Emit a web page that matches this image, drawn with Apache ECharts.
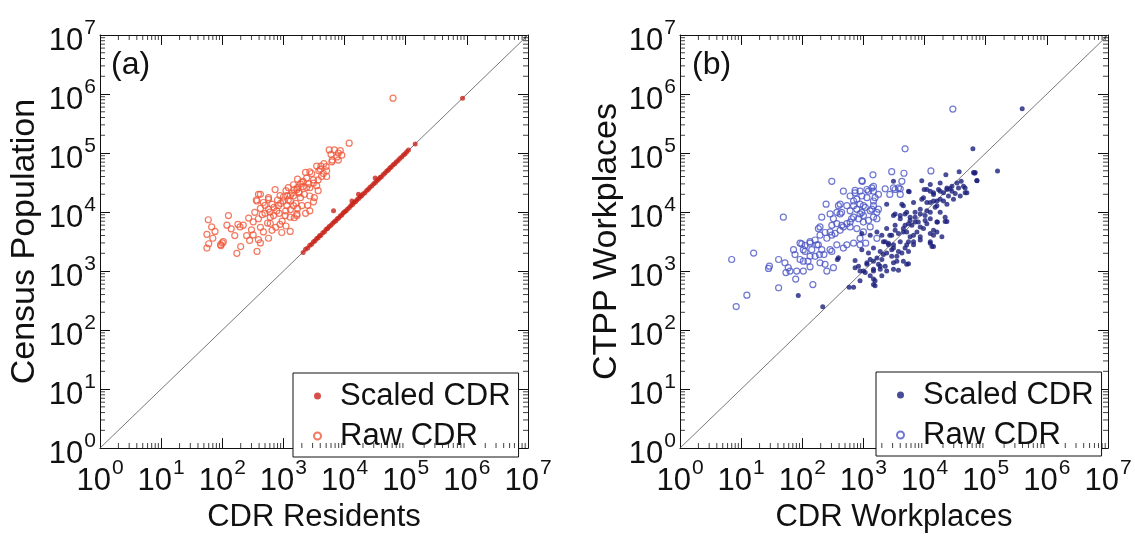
<!DOCTYPE html>
<html>
<head>
<meta charset="utf-8">
<script src="https://cdn.jsdelivr.net/npm/echarts@6/dist/echarts.min.js"></script>
<style>
html,body{margin:0;padding:0;background:#fff;}
#c{width:1135px;height:538px;}
</style>
</head>
<body>
<div id="c"></div>
<script>
// ---------- data ----------
const decades = [1, 10, 100, 1000, 1e4, 1e5, 1e6, 1e7];
const minorMultipliers = [2, 3, 4, 5, 6, 7, 8, 9];
const identityLine = [[1, 1], [1e7, 1e7]];

const scaledA = [
[2100,2070],[2300,2350],[2500,2450],[2700,2750],[2900,2850],[3100,3150],[3300,3250],[3500,3550],
[3700,3650],[3900,3950],[4100,4050],[4400,4450],[4700,4650],[5000,5100],[5300,5250],[5600,5700],
[6000,5950],[6400,6450],[6600,10500],[6800,6850],[7200,7150],[7600,7700],[8000,7950],[8500,8600],
[9000,8950],[9500,9600],[10000,10100],[10600,10500],[11200,11300],[12000,11900],[12700,12900],
[13200,15400],[13500,13400],[14300,14500],[15200,15100],[16000,16200],[16900,20000],[17000,16900],
[18000,18200],[19000,18900],[20000,20300],[21500,21300],[23000,23200],[24500,24400],[26000,26300],
[28000,27800],[30000,30300],[31700,37600],[32000,31800],[34000,34300],[36000,35800],[38000,38400],
[40000,39700],[43000,43300],[46000,45700],[49000,49400],[52000,51600],[55000,55500],[58000,57700],
[62000,62500],[66000,65500],[70000,70600],[75000,74500],[80000,80700],[86000,85300],[92000,92800],
[98000,97300],[104000,105000],[111000,113000],[143000,142000],[850000,845000]
];

const rawA = [
[11900,147000],[5600,113000],[6800,113000],[7900,100000],[9000,92000],[7500,86000],[6300,76000],
[7900,76000],[3500,60000],[4000,53000],[5000,59000],[5100,50000],[2300,47000],[2700,48000],
[2900,45000],[4200,40000],[3700,35000],[1700,36000],[2100,33000],[1900,30000],[3100,31000],
[1200,26000],[1500,24000],[1700,26000],[2400,26000],[1800,21000],[3700,23000],[730,24000],
[390,20000],[880,19000],[1300,19000],[570,17500],[1000,15400],[1300,15400],[1900,17500],
[3200,17500],[370,15400],[470,14500],[650,13600],[830,12800],[1140,12800],[1460,12800],
[2000,12800],[420,11500],[570,11200],[780,10500],[1090,10500],[2700,10500],[340,9900],[500,9500],
[690,8700],[1070,8700],[1660,9300],[390,7700],[610,8200],[1290,8200],[126,8700],[59,7400],
[320,6800],[610,6400],[880,6200],[1660,8700],[119,6000],[195,5600],[220,6000],[67,5600],[76,4700],
[56,4200],[70,3600],[320,4100],[470,4600],[650,4900],[940,4500],[1290,4700],[570,3600],[390,3400],
[420,3000],[104,3150],[94,2800],[56,2450],[173,2000],[370,2150],[62000,850000],
[270,7900],[100,3000],[95,2700],[360,16000],[6200,71000],[4100,60000],[5100,40000],[2400,37600],
[3100,35000],[1460,29000],[1660,24000],[2100,27000],[2700,25800],[1140,19000],[1460,18700],
[2700,18700],[570,16400],[420,20000],[3100,14900],
[1200,16000],[1600,14000],[1800,22000],[2200,20000],[2500,13000],[1400,21000],[1000,18000],
[900,14000],[800,16000],[1100,23000],[2000,32000],[2600,30000],[3500,28000],[4500,45000],
[3800,50000],[1300,11000],[1700,11500],[2300,9500],[700,12000],[600,10000],[500,13000],[450,9000],
[850,9500],[1500,8000],[950,7000],[750,5500],[550,6500],[420,5500],[300,5000],[250,4000],
[160,4000],[180,6200],[140,5200],[60,2900],[200,2600],[280,3300],[1100,5800],[8500,110000],
[6000,95000],[4600,66000]
];

const scaledB = [
[61700,118000],[156000,49800],[67300,46700],[71800,34000],[22300,42800],[36800,48400],[3100,33100],
[9000,34000],[18000,31000],[39700,33100],[5460,22600],[9840,24100],[12400,22600],[14000,19900],
[16900,24100],[20400,21200],[23200,25600],[28000,22600],[35900,25600],[46100,25600],[49200,21200],
[26200,24700],[31700,20700],[2400,13600],[4500,12800],[9600,17500],[10900,14500],[14000,15400],
[15900,12800],[18000,16500],[23200,13600],[29700,16500],[38300,18700],[3100,8700],[4000,7700],
[4800,9300],[5800,8200],[7000,9900],[8500,11200],[10200,8700],[12400,9900],[14900,12000],
[18000,9900],[21700,8200],[3300,5960],[4500,5250],[5460,6350],[7000,6760],[8500,5600],[10900,6350],
[14000,4920],[16200,6760],[23200,6930],[940,4340],[1290,4060],[1660,4610],[2000,4060],[2400,5250],
[2900,4060],[3740,4340],[5100,4610],[6600,4060],[8500,3810],[14000,4060],[19200,3810],[2120,3150],
[2570,2970],[3100,2780],[4000,3150],[5100,2780],[6600,3150],[12400,2970],[13200,2600],[940,2300],
[1210,2020],[1460,2450],[1880,2150],[2400,2020],[2900,2300],[3520,1780],[4250,2020],[5460,2150],
[4500,1470],[375,1570],[730,1510],[830,1210],[1140,1380],[1460,1470],[1760,1300],[2000,1570],
[2270,1210],[3100,1380],[5460,1330],[3740,1030],[730,1140],[880,1000],[1070,944],[1460,1000],
[1880,1070],[2000,830],[1460,731],[1550,566],[583,533],[86,387],[216,249],[395000,562000],
[65600,45400],[390,1680],
[12400,29200],[10900,24100],[14000,21200],[18000,22600],[23200,24100],[28000,27300],[33800,31000],
[43300,27300],[46100,21200],[63100,46700],[71800,34400],[5600,22000],[4250,13600],[6600,14500],
[9000,16500],[12400,14500],[15900,15400],[20400,15400],[24600,18700],[10900,10500],[8500,9300],
[7000,8200],[5800,7200],[5100,9900],[4000,8700],[3300,9300],[4800,5960],[6200,5960],[7900,6760],
[10200,7200],[12400,7690],[15900,6760],[21700,6930],[15900,4610],[12400,4340],[9600,5250],
[7500,4610],[5800,3810],[4500,4610],[5460,3150],[6600,2780],[8500,3360],[3300,4920],[2700,4060],
[2270,3150],[2570,2780],[3100,2450],[3740,2150],[4800,2450],[12400,3150],[14000,2600],
[1660,1670],[2120,1900],[2900,1780],[3520,1470],[5100,1300],[1140,1300],[1290,1570],[1880,1210],
[2400,1000],[3100,1070],[1000,1000],[1460,1070],[1550,686],[1290,830],[1460,589],[880,686],[690,533]
];

const rawB = [
[4800,118000],[304,33100],[940,34000],[1430,42800],[2900,48400],[4600,45400],[12700,49800],
[2270,24700],[3300,24100],[4000,24700],[2700,19900],[4000,19900],[470,22600],[730,23200],[880,22600],
[1140,24100],[1370,25600],[1460,22600],[1760,19900],[1550,17500],[245,13600],[390,12800],[440,9900],
[690,12800],[780,11200],[880,9300],[1070,12000],[1290,10500],[1460,12800],[1660,9900],[49,8200],
[208,8200],[285,9300],[323,7700],[367,6350],[690,8200],[830,7700],[1000,8700],[1210,7200],
[1460,8200],[535,6350],[606,5600],[416,4900],[470,5600],[183,5250],[236,4500],[304,4060],[344,4340],
[195,4060],[252,3600],[162,3360],[134,3150],[92,2970],[104,2300],[143,2300],[173,2780],[208,2300],
[285,2300],[304,2150],[470,2450],[690,2970],[880,2780],[1090,2970],[72,2300],[76,1900],[92,1570],
[104,1470],[134,1780],[191,1900],[41,1570],[52,1380],[59,1140],[63,1000],[54,944],[81,1000],
[195,1380],[236,1300],[252,1000],[104,1000],[134,1180],[29,1210],[28,1110],[78,730],[41,520],
[149,590],[16,2020],[7,1570],[12.4,390],[8.3,250],[29000,556000],[98,2880],[111,2710],[124,1470],
[940,9900],[606,10500],[416,9300],[640,7700],[1000,6760],[1660,7700],[1460,15400],[1140,17500],
[780,16500],[606,18700],[1760,11200],[880,13600],
[730,21200],[940,18700],[1210,22600],[1460,27300],[960,33100],[4250,33100],[3100,25600],
[3740,25600],[416,13600],[367,9900],[535,12800],[690,15400],[1000,12800],[1370,11200],[304,5960],
[443,5960],[606,6760],[780,5250],[1000,4610],[1290,5600],[880,3590],[535,2780],[1660,3590],
[195,5600],[285,4610],[134,2970],[111,2150],[183,2780],[226,1900],[162,1780],[367,2780],[323,1140]
];

// ---------- helpers ----------
const FONT = 'Liberation Sans, Arial, Helvetica, sans-serif';
const AX_MIN = decades[0], AX_MAX = decades[decades.length - 1];
const minorValues = [];
for (let d = 0; d < decades.length - 1; d++) {
  for (const m of minorMultipliers) minorValues.push(decades[d] * m);
}

function tickLabel(v) {
  const e = Math.round(Math.log10(v));
  return '{b|10}{e|' + e + '}';
}
const labelRich = {
  b: {fontSize: 31, fontFamily: FONT, color: '#111', padding: [12, 0, 0, 0]},
  e: {fontSize: 21, fontFamily: FONT, color: '#111', padding: [0, 0, 14, 1]}
};

function mainAxis(gridIndex, isX, name, nameGap, nameSize) {
  return {
    type: 'log', logBase: 10, gridIndex: gridIndex, min: AX_MIN, max: AX_MAX, interval: 1,
    position: isX ? 'bottom' : 'left',
    name: name, nameLocation: 'middle', nameGap: nameGap,
    nameTextStyle: {fontSize: nameSize, fontFamily: FONT, color: '#111'},
    axisLine: {show: true, lineStyle: {color: '#111', width: 1}},
    axisTick: {show: true, inside: true, length: 10, lineStyle: {color: '#111'}},
    axisLabel: {show: true, formatter: tickLabel, rich: labelRich, margin: isX ? 6 : 4},
    splitLine: {show: false}
  };
}
function mirrorAxis(gridIndex, isX) {
  return {
    type: 'log', logBase: 10, gridIndex: gridIndex, min: AX_MIN, max: AX_MAX, interval: 1,
    position: isX ? 'top' : 'right',
    axisLine: {show: true, lineStyle: {color: '#111', width: 1}},
    axisTick: {show: true, inside: true, length: 10, lineStyle: {color: '#111'}},
    axisLabel: {show: false},
    splitLine: {show: false}
  };
}

// minor log ticks on all four sides, placed through the axes' own scales
function minorTickSeries(xi, yi) {
  const L = 5;
  const common = {type: 'scatter', xAxisIndex: xi, yAxisIndex: yi, silent: true, clip: false,
    symbol: 'rect', itemStyle: {color: '#111'}, z: 6, animation: false};
  return [
    Object.assign({}, common, {data: minorValues.map(v => [v, AX_MIN]), symbolSize: [1, L], symbolOffset: [0, -L / 2]}),
    Object.assign({}, common, {data: minorValues.map(v => [v, AX_MAX]), symbolSize: [1, L], symbolOffset: [0, L / 2]}),
    Object.assign({}, common, {data: minorValues.map(v => [AX_MIN, v]), symbolSize: [L, 1], symbolOffset: [L / 2, 0]}),
    Object.assign({}, common, {data: minorValues.map(v => [AX_MAX, v]), symbolSize: [L, 1], symbolOffset: [-L / 2, 0]})
  ];
}

function legendBox(names, left, top) {
  return {
    data: names, orient: 'vertical', left: left, top: top,
    borderColor: '#111', borderWidth: 1, borderRadius: 0,
    padding: [6, 8, 4, 20], itemGap: 6, itemWidth: 7, itemHeight: 7,
    backgroundColor: '#fff',
    formatter: function (n) { return n.replace(/ \([ab]\)$/, ''); },
    textStyle: {fontSize: 31, fontFamily: FONT, color: '#111', padding: [0, 0, 0, 14], lineHeight: 34},
    selectedMode: false
  };
}

const chart = echarts.init(document.getElementById('c'), null, {renderer: 'canvas'});

const RED_DARK = '#c8261c', RED_LIGHT = '#f0583a';
const BLUE_DARK = '#1b1f7c', BLUE_LIGHT = '#4b55c4';

chart.setOption({
  animation: false,
  backgroundColor: '#fff',
  title: [
    {text: '(a)', left: 106, top: 44, textStyle: {fontSize: 32, fontWeight: 'normal', fontFamily: FONT, color: '#111'}},
    {text: '(b)', left: 687, top: 44, textStyle: {fontSize: 32, fontWeight: 'normal', fontFamily: FONT, color: '#111'}}
  ],
  grid: [
    {left: 100, top: 35, width: 428, height: 423},
    {left: 680, top: 35, width: 428, height: 423}
  ],
  xAxis: [
    mainAxis(0, true, 'CDR Residents', 38, 31),
    mirrorAxis(0, true),
    mainAxis(1, true, 'CDR Workplaces', 38, 31),
    mirrorAxis(1, true)
  ],
  yAxis: [
    mainAxis(0, false, 'Census Population', 58, 34),
    mirrorAxis(0, false),
    mainAxis(1, false, 'CTPP Workplaces', 56, 34),
    mirrorAxis(1, false)
  ],
  legend: [
    legendBox(['Scaled CDR (a)', 'Raw CDR (a)'], 293, 373),
    legendBox(['Scaled CDR (b)', 'Raw CDR (b)'], 876, 372)
  ],
  series: [
    {type: 'line', xAxisIndex: 0, yAxisIndex: 0, data: identityLine, symbol: 'none', silent: true,
     lineStyle: {color: '#555', width: 0.8}, z: 1},
    {type: 'line', xAxisIndex: 2, yAxisIndex: 2, data: identityLine, symbol: 'none', silent: true,
     lineStyle: {color: '#555', width: 0.8}, z: 1},
    ...minorTickSeries(0, 0),
    ...minorTickSeries(2, 2),
    {name: 'Raw CDR (a)', type: 'scatter', xAxisIndex: 0, yAxisIndex: 0, data: rawA,
     symbol: 'circle', symbolSize: 6,
     itemStyle: {color: 'rgba(255,255,255,0)', borderColor: RED_LIGHT, borderWidth: 1.2}, z: 3},
    {name: 'Scaled CDR (a)', type: 'scatter', xAxisIndex: 0, yAxisIndex: 0, data: scaledA,
     symbol: 'circle', symbolSize: 5, itemStyle: {color: RED_DARK}, z: 4},
    {name: 'Raw CDR (b)', type: 'scatter', xAxisIndex: 2, yAxisIndex: 2, data: rawB,
     symbol: 'circle', symbolSize: 6,
     itemStyle: {color: 'rgba(255,255,255,0)', borderColor: BLUE_LIGHT, borderWidth: 1.2}, z: 3},
    {name: 'Scaled CDR (b)', type: 'scatter', xAxisIndex: 2, yAxisIndex: 2, data: scaledB,
     symbol: 'circle', symbolSize: 5, itemStyle: {color: BLUE_DARK}, z: 4}
  ]
});
</script>
</body>
</html>
